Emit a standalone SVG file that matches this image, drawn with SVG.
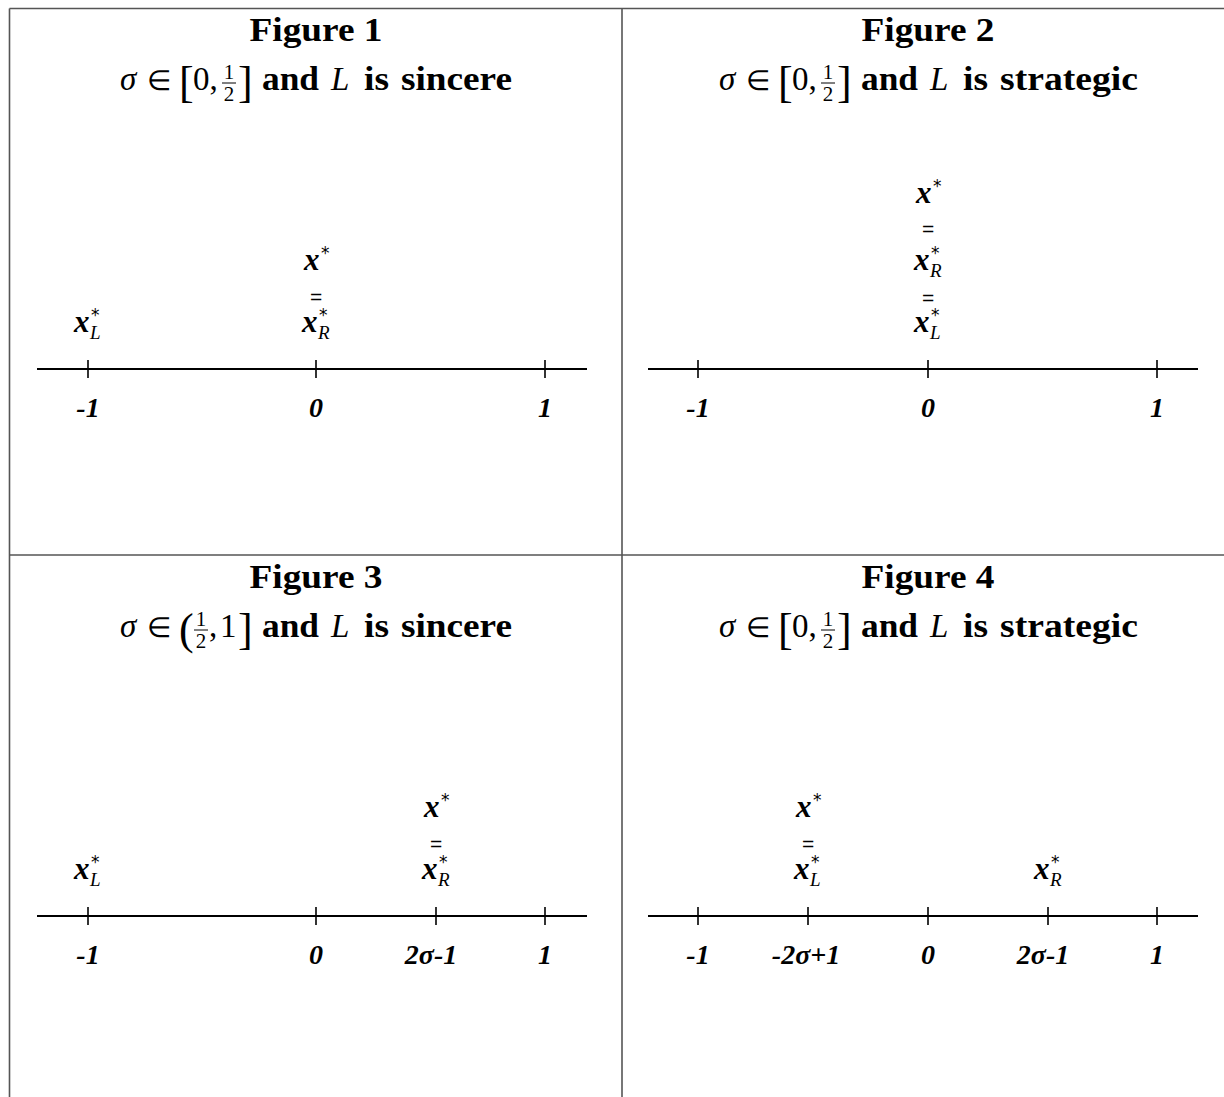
<svg xmlns="http://www.w3.org/2000/svg" width="1224" height="1097" viewBox="0 0 1224 1097">
<style>
.frame{stroke:#555;stroke-width:1.6;fill:none}
.axis{stroke:#000;stroke-width:2;fill:none}
.tick{stroke:#000;stroke-width:1.6}
.bar{stroke:#000;stroke-width:1}
.title{font-family:"Liberation Serif",serif;font-weight:bold;font-size:33px;text-anchor:middle;fill:#000}
.sub{font-family:"Liberation Serif",serif;font-weight:bold;font-size:33px;fill:#000}
.mi{font-family:"Liberation Serif",serif;font-style:italic;font-size:33px;fill:#000}
.mr{font-family:"Liberation Serif",serif;font-size:33px;fill:#000}
.el{font-family:"Liberation Serif",serif;font-size:28px;fill:#000}
.br{font-family:"Liberation Serif",serif;font-size:44px;fill:#000}
.fr{font-family:"Liberation Serif",serif;font-size:21px;text-anchor:middle;fill:#000}
.var{font-family:"Liberation Serif",serif;font-style:italic;font-weight:bold;font-size:31px;fill:#000}
.sup{font-family:"DejaVu Sans",sans-serif;font-size:17px;fill:#000}
.subs{font-family:"Liberation Serif",serif;font-style:italic;font-size:19px;fill:#000}
.eq{font-family:"Liberation Sans",sans-serif;font-size:21px;text-anchor:middle;fill:#000}
.lab{font-family:"Liberation Serif",serif;font-style:italic;font-weight:bold;font-size:28px;text-anchor:middle;fill:#000}
</style>
<defs>
<g id="xstar"><text class="var" x="-12" y="0">x</text><text class="sup" x="5" y="-11">*</text></g>
<g id="xL"><text class="var" x="-14" y="0">x</text><text class="sup" x="3" y="-11">*</text><text class="subs" x="2" y="7">L</text></g>
<g id="xR"><text class="var" x="-14" y="0">x</text><text class="sup" x="3" y="-11">*</text><text class="subs" x="2" y="7">R</text></g>
<g id="eq"><text class="eq" x="0" y="0">=</text></g>
</defs>

<g id="frame">
<line class="frame" x1="9.5" y1="8.5" x2="1224" y2="8.5"/>
<line class="frame" x1="9.5" y1="8.5" x2="9.5" y2="1097"/>
<line class="frame" x1="622" y1="8.5" x2="622" y2="1097"/>
<line class="frame" x1="9.5" y1="555" x2="1224" y2="555"/>
</g>

<g id="panel1">
<text class="title" x="316" y="41" textLength="133" lengthAdjust="spacingAndGlyphs">Figure 1</text>
<text class="mi" x="120" y="90">σ</text>
<text class="el" x="147" y="90">∈</text>
<text class="br" x="179" y="97">[</text>
<text class="mr" x="193" y="90">0,</text>
<text class="fr" x="229" y="79">1</text>
<line class="bar" x1="222" y1="83" x2="236" y2="83"/>
<text class="fr" x="229" y="101">2</text>
<text class="br" x="238" y="97">]</text>
<text class="sub" x="262" y="90" textLength="57" lengthAdjust="spacingAndGlyphs">and</text>
<text class="mi" x="331" y="90">L</text>
<text class="sub" x="364" y="90" textLength="25" lengthAdjust="spacingAndGlyphs">is</text>
<text class="sub" x="401" y="90" textLength="111" lengthAdjust="spacingAndGlyphs">sincere</text>
</g>

<g id="panel2">
<text class="title" x="928" y="41" textLength="133" lengthAdjust="spacingAndGlyphs">Figure 2</text>
<text class="mi" x="719" y="90">σ</text>
<text class="el" x="746" y="90">∈</text>
<text class="br" x="778" y="97">[</text>
<text class="mr" x="792" y="90">0,</text>
<text class="fr" x="828" y="79">1</text>
<line class="bar" x1="821" y1="83" x2="835" y2="83"/>
<text class="fr" x="828" y="101">2</text>
<text class="br" x="837" y="97">]</text>
<text class="sub" x="861" y="90" textLength="57" lengthAdjust="spacingAndGlyphs">and</text>
<text class="mi" x="930" y="90">L</text>
<text class="sub" x="963" y="90" textLength="25" lengthAdjust="spacingAndGlyphs">is</text>
<text class="sub" x="1000" y="90" textLength="138" lengthAdjust="spacingAndGlyphs">strategic</text>
</g>

<g id="panel3">
<text class="title" x="316" y="588" textLength="133" lengthAdjust="spacingAndGlyphs">Figure 3</text>
<text class="mi" x="120" y="637">σ</text>
<text class="el" x="147" y="637">∈</text>
<text class="br" x="179" y="644">(</text>
<text class="fr" x="201" y="626">1</text>
<line class="bar" x1="194" y1="630" x2="208" y2="630"/>
<text class="fr" x="201" y="648">2</text>
<text class="mr" x="209" y="637">,</text>
<text class="mr" x="220" y="637">1</text>
<text class="br" x="238" y="644">]</text>
<text class="sub" x="262" y="637" textLength="57" lengthAdjust="spacingAndGlyphs">and</text>
<text class="mi" x="331" y="637">L</text>
<text class="sub" x="364" y="637" textLength="25" lengthAdjust="spacingAndGlyphs">is</text>
<text class="sub" x="401" y="637" textLength="111" lengthAdjust="spacingAndGlyphs">sincere</text>
</g>

<g id="panel4">
<text class="title" x="928" y="588" textLength="133" lengthAdjust="spacingAndGlyphs">Figure 4</text>
<text class="mi" x="719" y="637">σ</text>
<text class="el" x="746" y="637">∈</text>
<text class="br" x="778" y="644">[</text>
<text class="mr" x="792" y="637">0,</text>
<text class="fr" x="828" y="626">1</text>
<line class="bar" x1="821" y1="630" x2="835" y2="630"/>
<text class="fr" x="828" y="648">2</text>
<text class="br" x="837" y="644">]</text>
<text class="sub" x="861" y="637" textLength="57" lengthAdjust="spacingAndGlyphs">and</text>
<text class="mi" x="930" y="637">L</text>
<text class="sub" x="963" y="637" textLength="25" lengthAdjust="spacingAndGlyphs">is</text>
<text class="sub" x="1000" y="637" textLength="138" lengthAdjust="spacingAndGlyphs">strategic</text>
</g>

<g id="connectors">
<line class="axis" x1="37" y1="369" x2="587" y2="369"/>
<line class="tick" x1="88" y1="360" x2="88" y2="378"/>
<line class="tick" x1="316" y1="360" x2="316" y2="378"/>
<line class="tick" x1="545" y1="360" x2="545" y2="378"/>

<line class="axis" x1="648" y1="369" x2="1198" y2="369"/>
<line class="tick" x1="698" y1="360" x2="698" y2="378"/>
<line class="tick" x1="928" y1="360" x2="928" y2="378"/>
<line class="tick" x1="1157" y1="360" x2="1157" y2="378"/>

<line class="axis" x1="37" y1="916" x2="587" y2="916"/>
<line class="tick" x1="88" y1="907" x2="88" y2="925"/>
<line class="tick" x1="316" y1="907" x2="316" y2="925"/>
<line class="tick" x1="436" y1="907" x2="436" y2="925"/>
<line class="tick" x1="545" y1="907" x2="545" y2="925"/>

<line class="axis" x1="648" y1="916" x2="1198" y2="916"/>
<line class="tick" x1="698" y1="907" x2="698" y2="925"/>
<line class="tick" x1="808" y1="907" x2="808" y2="925"/>
<line class="tick" x1="928" y1="907" x2="928" y2="925"/>
<line class="tick" x1="1048" y1="907" x2="1048" y2="925"/>
<line class="tick" x1="1157" y1="907" x2="1157" y2="925"/>
</g>

<g id="labels1">
<use href="#xL" x="88" y="332"/>
<use href="#xstar" x="316" y="270"/>
<use href="#eq" x="316" y="304"/>
<use href="#xR" x="316" y="332"/>
<text class="lab" x="88" y="417">-1</text>
<text class="lab" x="316" y="417">0</text>
<text class="lab" x="545" y="417">1</text>
</g>

<g id="labels2">
<use href="#xstar" x="928" y="203"/>
<use href="#eq" x="928" y="236"/>
<use href="#xR" x="928" y="270"/>
<use href="#eq" x="928" y="305"/>
<use href="#xL" x="928" y="332"/>
<text class="lab" x="698" y="417">-1</text>
<text class="lab" x="928" y="417">0</text>
<text class="lab" x="1157" y="417">1</text>
</g>

<g id="labels3">
<use href="#xL" x="88" y="879"/>
<use href="#xstar" x="436" y="817"/>
<use href="#eq" x="436" y="851"/>
<use href="#xR" x="436" y="879"/>
<text class="lab" x="88" y="964">-1</text>
<text class="lab" x="316" y="964">0</text>
<text class="lab" x="431" y="964">2σ-1</text>
<text class="lab" x="545" y="964">1</text>
</g>

<g id="labels4">
<use href="#xstar" x="808" y="817"/>
<use href="#eq" x="808" y="851"/>
<use href="#xL" x="808" y="879"/>
<use href="#xR" x="1048" y="879"/>
<text class="lab" x="698" y="964">-1</text>
<text class="lab" x="806" y="964">-2σ+1</text>
<text class="lab" x="928" y="964">0</text>
<text class="lab" x="1043" y="964">2σ-1</text>
<text class="lab" x="1157" y="964">1</text>
</g>
</svg>
